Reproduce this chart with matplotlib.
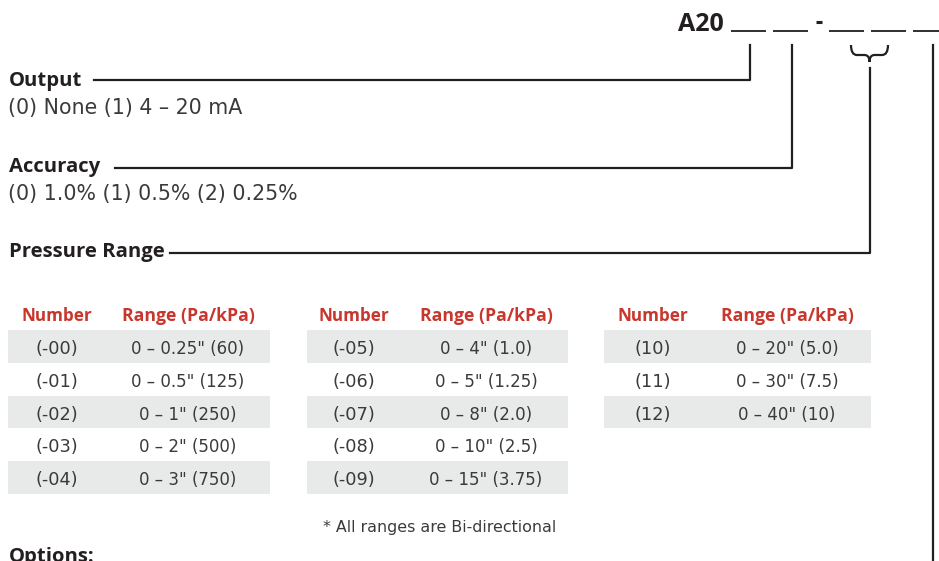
import matplotlib
matplotlib.use("Agg")
import matplotlib.pyplot as plt
from matplotlib.patches import Rectangle, PathPatch
from matplotlib.path import Path

# ---------------- data ----------------
model_prefix = "A20"
output_title = "Output"
output_options = "(0) None (1) 4 – 20 mA"
accuracy_title = "Accuracy"
accuracy_options = "(0) 1.0% (1) 0.5% (2) 0.25%"
range_title = "Pressure Range"
col_headers = ["Number", "Range (Pa/kPa)"]
table1_numbers = ["(-00)", "(-01)", "(-02)", "(-03)", "(-04)"]
table1_ranges = ['0 – 0.25" (60)', '0 – 0.5" (125)', '0 – 1" (250)', '0 – 2" (500)', '0 – 3" (750)']
table2_numbers = ["(-05)", "(-06)", "(-07)", "(-08)", "(-09)"]
table2_ranges = ['0 – 4" (1.0)', '0 – 5" (1.25)', '0 – 8" (2.0)', '0 – 10" (2.5)', '0 – 15" (3.75)']
table3_numbers = ["(10)", "(11)", "(12)"]
table3_ranges = ['0 – 20" (5.0)', '0 – 30" (7.5)', '0 – 40" (10)']
note_text = "* All ranges are Bi-directional"
options_title = "Options:"

BOLD = "Open Sans"
REG = "DejaVu Sans"
DARK = "#231f20"
BODY = "#3a3a3a"
RED = "#c8372d"
BAND = "#e8e9e9"

fig = plt.figure(figsize=(9.39, 5.61), dpi=100)
ax = fig.add_axes([0, 0, 1, 1])
ax.set_xlim(0, 939)
ax.set_ylim(561, 0)
ax.axis("off")

LW = 1.6

# ---------------- model code header ----------------
ax.text(724, 31, model_prefix, fontsize=18, fontweight="bold", family=BOLD,
        color=DARK, ha="right", va="baseline")
blanks = [(731, 766), (773, 808), (829, 864), (871, 906), (913, 945)]
for x0, x1 in blanks:
    ax.plot([x0, x1], [31, 31], color=DARK, lw=1.3, solid_capstyle="butt")
ax.plot([816, 822], [22, 22], color=DARK, lw=2.2, solid_capstyle="butt")

# connectors
ax.plot([750, 750, 94], [45, 80, 80], color=DARK, lw=LW)
ax.plot([792, 792, 115], [45, 168, 168], color=DARK, lw=LW)
ax.plot([870, 870, 170], [68, 253, 253], color=DARK, lw=LW)
ax.plot([933, 933], [45, 561], color=DARK, lw=LW)

# curly brace under 3rd+4th blanks
L, R, M = 851, 888, 869.5
top, mid, tip = 45, 55, 62
verts = [(L, top), (L, mid), (L + 6, mid), (M - 5, mid),
         (M, mid), (M, tip), (M, mid), (M + 5, mid),
         (R - 6, mid), (R, mid), (R, top)]
codes = [Path.MOVETO, Path.CURVE3, Path.CURVE3, Path.LINETO,
         Path.CURVE3, Path.CURVE3, Path.CURVE3, Path.CURVE3,
         Path.LINETO, Path.CURVE3, Path.CURVE3]
ax.add_patch(PathPatch(Path(verts, codes), fill=False, lw=LW, edgecolor=DARK,
                       capstyle="butt"))

# ---------------- section titles ----------------
def title(y, s):
    ax.text(9, y, s, fontsize=14.6, fontweight="bold", family=BOLD, color=DARK,
            ha="left", va="baseline")

def body(y, s):
    ax.text(8, y, s, fontsize=14.8, family=REG, color=BODY, ha="left", va="baseline")

title(86, output_title)
body(114, output_options)
title(172, accuracy_title)
body(200, accuracy_options)
title(257, range_title)

# ---------------- tables ----------------
ROW_H = 32.8
ROW0 = 330
tables = [
    (8, 270, 57, 188, table1_numbers, table1_ranges),
    (307, 568, 354, 486, table2_numbers, table2_ranges),
    (604, 871, 653, 787, table3_numbers, table3_ranges),
]
for x0, x1, cn, cr, nums, rngs in tables:
    ax.text(cn, 321, col_headers[0], fontsize=12.3, fontweight="bold", family=BOLD,
            color=RED, ha="center", va="baseline")
    ax.text(cr, 321, col_headers[1], fontsize=12.7, fontweight="bold", family=BOLD,
            color=RED, ha="center", va="baseline")
    for i, (n, r) in enumerate(zip(nums, rngs)):
        y0 = ROW0 + i * ROW_H
        if i % 2 == 0:
            ax.add_patch(Rectangle((x0, y0), x1 - x0, ROW_H, facecolor=BAND,
                                   edgecolor="none"))
        yb = y0 + 24
        ax.text(cn, yb, n, fontsize=12.8, family=REG, color=BODY, ha="center", va="baseline")
        ax.text(cr, yb, r, fontsize=12, family=REG, color=BODY, ha="center", va="baseline")

ax.text(440, 532, note_text, fontsize=11.4, family=REG, color=BODY, ha="center", va="baseline")
ax.text(9, 547, options_title, fontsize=14.6, fontweight="bold", family=BOLD,
        color=DARK, ha="left", va="top")

fig.savefig("out.png", dpi=100)
